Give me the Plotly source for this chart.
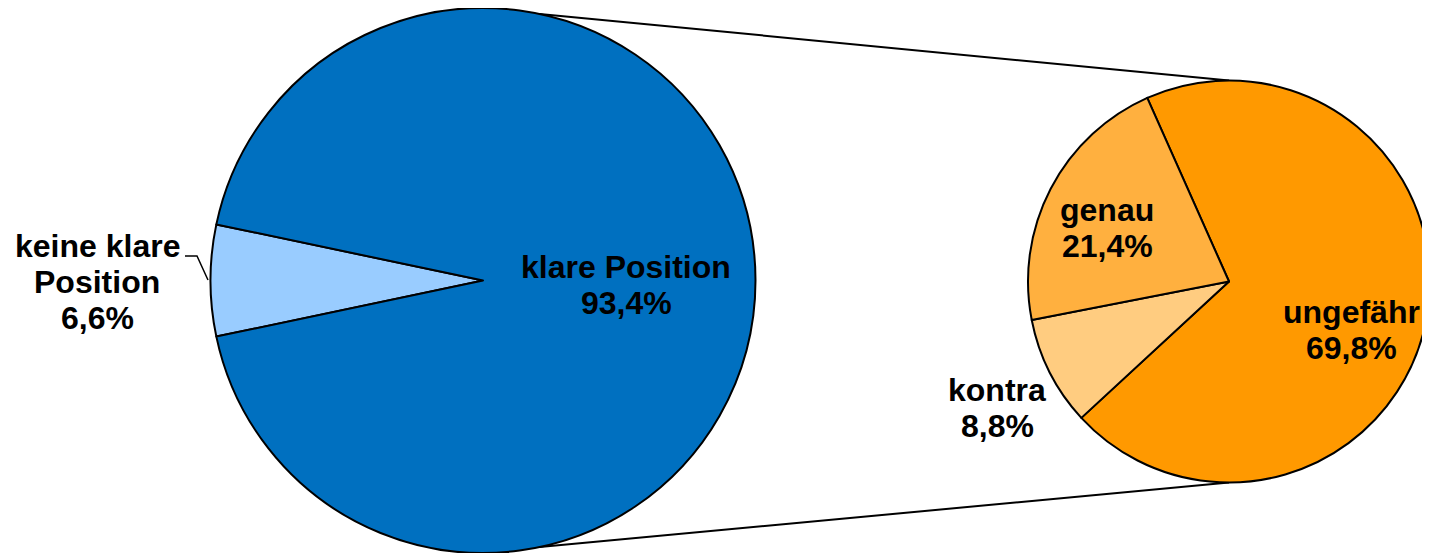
import math
import plotly.graph_objects as go

# figure size chosen so that, with the page's 8px body margin, it fills the window
OFF = 8  # body margin of the html page (screen px)
W, H = 1430 - OFF, 553 - OFF

# ---- data ----
main_labels = ["keine klare Position", "klare Position"]
main_values = [6.6, 93.4]
main_colors = ["#99CCFF", "#0070C0"]

sub_labels = ["ungefähr", "kontra", "genau"]
sub_values = [69.8, 8.8, 21.4]
sub_colors = ["#FF9900", "#FFCC80", "#FFB03F"]

# how each label is broken into lines
main_label_lines = [["keine klare", "Position"], ["klare Position"]]
sub_label_lines = [["ungefähr"], ["kontra"], ["genau"]]

# ---- layout / style (screen pixels) ----
main_dom_px = (210, 756)          # x extent of main pie
sub_dom_px = (1028, 1430)         # x extent of sub pie
sub_cy = 281.5
main_label_pos = [(97, 256), (626, 277)]           # (center x, first baseline)
sub_label_pos = [(1351, 322), (997, 400), (1107, 220)]
LINE_STEP = 36
FS = 32
FONT = dict(family="Liberation Sans, Arial, sans-serif", size=FS, color="black", weight="bold")


def P(x, y):
    """screen px -> paper coords"""
    return (x - OFF) / W, 1 - (y - OFF) / H


def fmt(v):
    return f"{v:.1f}".replace(".", ",") + "%"


main_total = sum(main_values)
main_rotation = 270 - main_values[0] / main_total * 360 / 2
sub_rotation = 336

fig = go.Figure()
fig.add_trace(go.Pie(
    labels=main_labels, values=main_values, sort=False, direction="clockwise",
    rotation=main_rotation, textinfo="none", hoverinfo="skip",
    marker=dict(colors=main_colors, line=dict(color="black", width=2)),
    domain=dict(x=[P(main_dom_px[0], 0)[0], P(main_dom_px[1], 0)[0]], y=[0, 1]),
    showlegend=False,
))
sub_r = (sub_dom_px[1] - sub_dom_px[0]) / 2
sub_cx = sum(sub_dom_px) / 2
sx0, sy1 = P(sub_dom_px[0], sub_cy - sub_r - 6)
sx1, sy0 = P(sub_dom_px[1], sub_cy + sub_r + 6)
fig.add_trace(go.Pie(
    labels=sub_labels, values=sub_values, sort=False, direction="clockwise",
    rotation=sub_rotation, textinfo="none", hoverinfo="skip",
    marker=dict(colors=sub_colors, line=dict(color="black", width=2)),
    domain=dict(x=[sx0, min(sx1, 1)], y=[sy0, sy1]),
    showlegend=False,
))

annotations = []


def add_label(lines, value, pos):
    cx, base = pos
    all_lines = lines + [fmt(value)]
    for i, t in enumerate(all_lines):
        yb = base + i * LINE_STEP
        x, y = P(cx, yb - 10)
        annotations.append(dict(
            text=t, x=x, y=y, xref="paper", yref="paper",
            xanchor="center", yanchor="middle", showarrow=False, font=FONT,
        ))


for lines, v, p in zip(main_label_lines, main_values, main_label_pos):
    add_label(lines, v, p)
for lines, v, p in zip(sub_label_lines, sub_values, sub_label_pos):
    add_label(lines, v, p)

# geometry for connectors (screen px)
cx1 = sum(main_dom_px) / 2
r1 = min(main_dom_px[1] - main_dom_px[0], H) / 2
cy1 = OFF + H / 2
a = math.radians(12)

shapes = []
for sgn in (-1, 1):
    x0, y0 = P(cx1 + r1 * math.sin(a), cy1 + sgn * r1 * math.cos(a))
    x1, y1 = P(sub_cx, sub_cy + sgn * sub_r)
    shapes.append(dict(type="line", xref="paper", yref="paper", x0=x0, y0=y0, x1=x1, y1=y1,
                       line=dict(color="black", width=2), layer="below"))

# leader line for the outside label
lx = [185, 197, 208]
ly = [256, 256, 280]
path = "M " + " L ".join("{},{}".format(*P(px, py)) for px, py in zip(lx, ly))
shapes.append(dict(type="path", xref="paper", yref="paper", path=path,
                   line=dict(color="black", width=1.5), layer="above"))

fig.update_layout(
    width=W, height=H, margin=dict(l=0, r=0, t=0, b=0),
    paper_bgcolor="white", plot_bgcolor="white",
    annotations=annotations, shapes=shapes,
)

fig.write_html("out.html")
